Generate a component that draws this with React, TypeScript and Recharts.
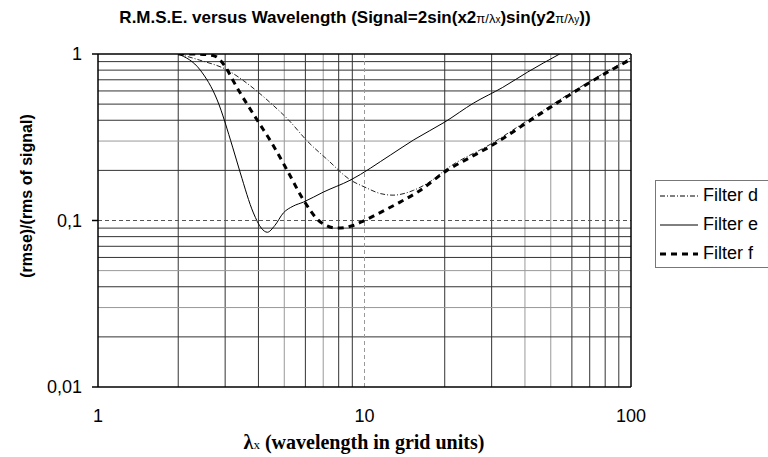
import React from "react";
import {
  LineChart,
  Line,
  XAxis,
  YAxis,
  ReferenceLine,
} from "recharts";

// values (x = wavelength, y = rmse / rms of signal)
const filterDx = [2, 2.4, 3.06, 3.7, 4.43, 5.2, 6.1, 7.3, 8.86, 10, 11.5, 12.8, 15.3, 17.7, 20.4, 30, 41, 59, 100];
const filterDy = [1, 0.92, 0.8, 0.65, 0.51, 0.4, 0.3, 0.23, 0.175, 0.159, 0.145, 0.142, 0.152, 0.172, 0.205, 0.29, 0.4, 0.58, 0.95];

const filterEx = [2, 2.42, 2.8, 3.2, 3.42, 3.83, 4.1, 4.32, 4.6, 4.96, 5.4, 5.9, 7, 8.86, 12.5, 15.3, 20, 25.7, 33, 41, 54];
const filterEy = [1, 0.8, 0.53, 0.276, 0.193, 0.111, 0.09, 0.085, 0.093, 0.111, 0.122, 0.129, 0.148, 0.175, 0.247, 0.305, 0.39, 0.508, 0.63, 0.78, 1.0];

const filterFx = [2, 2.3, 2.7, 3.06, 3.2, 3.96, 4.5, 5.13, 5.9, 6.83, 7.9, 9, 10, 11.5, 13.6, 16, 20.4, 25, 29.8, 41, 59, 75, 100];
const filterFy = [1, 1, 0.98, 0.8, 0.7, 0.4, 0.29, 0.2, 0.133, 0.098, 0.09, 0.093, 0.1, 0.112, 0.129, 0.15, 0.2, 0.24, 0.28, 0.39, 0.57, 0.72, 0.93];

const xTicks = [1, 10, 100];
const yTicks = [0.01, 0.1, 1];
const xGrid = [2, 3, 4, 5, 6, 7, 8, 9, 20, 30, 40, 50, 60, 70, 80, 90];
const yGrid = [0.02, 0.03, 0.04, 0.05, 0.06, 0.07, 0.08, 0.09, 0.2, 0.3, 0.4, 0.5, 0.6, 0.7, 0.8, 0.9];

const toPoints = (xs, ys) => xs.map((x, i) => ({ x, y: ys[i] }));

const fmtY = (v) => String(v).replace(".", ",");

const sans = "Liberation Sans, Arial, sans-serif";
const tickStyle = { fill: "#000", fontSize: 18, fontFamily: sans };

const legendItems = [
  { name: "Filter d", dash: "5 2 1 2", width: 1 },
  { name: "Filter e", dash: undefined, width: 1 },
  { name: "Filter f", dash: "6 5", width: 3 },
];

const LegendBox = () => (
  <div
    style={{
      position: "absolute",
      left: 655,
      top: 180,
      border: "1px solid #777",
      width: 130,
      height: 88,
      background: "#fff",
      fontFamily: sans,
      fontSize: 18,
      color: "#000",
      boxSizing: "border-box",
      paddingTop: 0,
    }}
  >
    {legendItems.map((it) => (
      <div key={it.name} style={{ display: "flex", alignItems: "center", height: 29 }}>
        <svg width={44} height={10} style={{ marginLeft: 2 }}>
          <line x1={2} y1={5} x2={40} y2={5} stroke="#000" strokeWidth={it.width} strokeDasharray={it.dash} />
        </svg>
        <span style={{ marginLeft: 1 }}>{it.name}</span>
      </div>
    ))}
  </div>
);

const App = () => {
  return (
    <div style={{ position: "absolute", left: 0, top: 0, width: 768, height: 457, background: "#fff", overflow: "hidden" }}>
      <div
        style={{
          position: "absolute",
          left: 355,
          top: 18,
          transform: "translate(-50%, -50%)",
          whiteSpace: "nowrap",
          fontFamily: sans,
          fontWeight: "bold",
          fontSize: 17,
          color: "#000",
        }}
      >
        R.M.S.E. versus Wavelength (Signal=2sin(x2
        <span style={{ fontSize: 13, fontWeight: "normal" }}>π/λ</span>
        <span style={{ fontSize: 10, fontWeight: "normal" }}>x</span>)sin(y2
        <span style={{ fontSize: 13, fontWeight: "normal" }}>π/λ</span>
        <span style={{ fontSize: 10, fontWeight: "normal" }}>y</span>))
      </div>
      <div
        style={{
          position: "absolute",
          left: 27,
          top: 196,
          transform: "translate(-50%, -50%) rotate(-90deg)",
          whiteSpace: "nowrap",
          fontFamily: sans,
          fontWeight: "bold",
          fontSize: 16,
          color: "#000",
        }}
      >
        (rmse)/(rms of signal)
      </div>
      <div
        style={{
          position: "absolute",
          left: 364,
          top: 442,
          transform: "translate(-50%, -50%)",
          whiteSpace: "nowrap",
          fontFamily: "Liberation Serif, 'Times New Roman', serif",
          fontWeight: "bold",
          fontSize: 20,
          color: "#000",
        }}
      >
        λ<span style={{ fontSize: 13, fontWeight: "normal" }}>x</span> (wavelength in grid units)
      </div>
      <LineChart width={768} height={457} margin={{ top: 54, right: 137, left: 38, bottom: 30 }}>
        <XAxis
          type="number"
          dataKey="x"
          scale="log"
          domain={[1, 100]}
          ticks={xTicks}
          allowDataOverflow
          height={40}
          tick={tickStyle}
          tickMargin={16}
          tickLine={false}
          stroke="#000"
          strokeWidth={1.5}
        />
        <YAxis
          type="number"
          dataKey="y"
          scale="log"
          domain={[0.01, 1]}
          ticks={yTicks}
          allowDataOverflow
          width={60}
          tick={tickStyle}
          tickFormatter={fmtY}
          tickMargin={10}
          stroke="#000"
          strokeWidth={1.5}
        />
        {xGrid.map((v) => (
          <ReferenceLine key={"x" + v} x={v} stroke={v === 5 || v === 7 || v === 40 || v === 50 ? "#999" : "#333"} strokeWidth={1} />
        ))}
        {yGrid.map((v) => (
          <ReferenceLine key={"y" + v} y={v} stroke={v === 0.3 || v === 0.03 || v === 0.05 ? "#999" : "#333"} strokeWidth={1} />
        ))}
        <ReferenceLine x={10} stroke="#999" strokeDasharray="4 3" />
        <ReferenceLine y={0.1} stroke="#555" strokeDasharray="4 3" />
        <ReferenceLine x={100} stroke="#000" strokeWidth={1.5} />
        <ReferenceLine y={1} stroke="#000" strokeWidth={1.5} />
        <Line
          data={toPoints(filterDx, filterDy)}
          dataKey="y"
          name="Filter d"
          type="monotone"
          stroke="#222"
          strokeWidth={1}
          strokeDasharray="5 2 1 2"
          dot={false}
          isAnimationActive={false}
        />
        <Line
          data={toPoints(filterEx, filterEy)}
          dataKey="y"
          name="Filter e"
          type="monotone"
          stroke="#000"
          strokeWidth={1}
          dot={false}
          isAnimationActive={false}
        />
        <Line
          data={toPoints(filterFx, filterFy)}
          dataKey="y"
          name="Filter f"
          type="monotone"
          stroke="#000"
          strokeWidth={3}
          strokeDasharray="6 5"
          dot={false}
          isAnimationActive={false}
        />
      </LineChart>
      <LegendBox />
    </div>
  );
};

export default App;
